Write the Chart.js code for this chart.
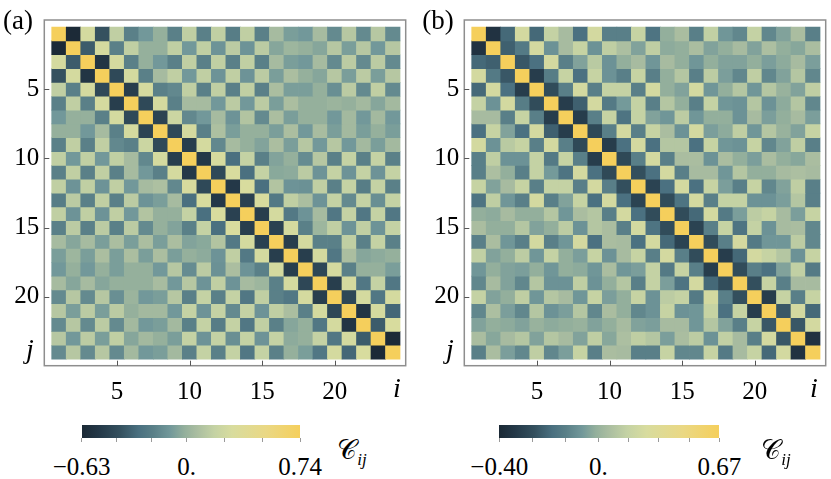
<!DOCTYPE html>
<html>
<head>
<meta charset="utf-8">
<script src="https://cdn.jsdelivr.net/npm/chart.js@4.4.1/dist/chart.umd.min.js"></script>
<style>
  body { margin: 0; width: 831px; height: 479px; overflow: hidden; background: #fff; position: relative; font-family: "Liberation Serif", serif; }
  .panel { position: absolute; top: 0; width: 415px; height: 410px; }
  .txt { position: absolute; transform: translate(-50%, -50%); white-space: nowrap; color: #000; line-height: 1; }
  .it { font-style: italic; }
  .cbar { position: absolute; height: 13px; }
  .ctick { position: absolute; width: 1px; height: 4px; background: #9a9a9a; }
</style>
</head>
<body>
<div class="panel" style="left:0"><canvas id="chartA" width="415" height="410"></canvas></div>
<div class="panel" style="left:420px"><canvas id="chartB" width="415" height="410"></canvas></div>
<div id="labels"></div>

<script>
/* --- datos: sitios, ticks y correlaciones (triangulo inferior, fila j) --- */
const sites = [1, 2, 3, 4, 5, 6, 7, 8, 9, 10, 11, 12, 13, 14, 15, 16, 17, 18, 19, 20, 21, 22, 23, 24];
const axisTicks = [5, 10, 15, 20];

const rangeA = [-0.63, 0.74];
const rangeB = [-0.40, 0.67];
const legendTicksA = [-0.63, -0.42, -0.21, 0, 0.247, 0.493, 0.74];
const legendTicksB = [-0.40, -0.267, -0.133, 0, 0.1675, 0.335, 0.5025, 0.67];
const legendLabelsA = ['−0.63', '0.', '0.74'];
const legendLabelsB = ['−0.40', '0.', '0.67'];

const corrA = [
  [.74],
  [-.62, .74],
  [.27, -.36, .74],
  [-.4, .27, -.55, .74],
  [.16, -.2, .27, -.44, .74],
  [-.2, .16, -.2, .27, -.5, .74],
  [-.1, -.01, -.01, -.2, .27, -.44, .74],
  [-.01, -.01, -.1, .05, -.2, .27, -.47, .74],
  [-.2, .16, -.2, .16, -.17, -.2, .22, -.44, .74],
  [.16, -.1, .16, -.1, .16, .05, -.17, .27, -.5, .74],
  [-.2, .16, -.2, .16, -.2, .05, -.1, -.2, .27, -.53, .74],
  [.16, -.12, .16, -.12, .16, -.1, .05, .08, -.17, .29, -.44, .74],
  [-.22, .14, -.2, .16, -.2, .14, -.12, -.08, .05, -.29, .3, -.53, .74],
  [.16, -.12, .16, -.12, .16, -.1, .1, -.01, -.01, .18, -.29, .3, -.48, .74],
  [-.2, .14, -.2, .14, -.2, .14, -.16, -.01, -.06, -.2, .18, -.29, .3, -.5, .74],
  [.05, -.05, .05, -.08, .07, -.08, .07, -.08, .07, -.06, -.04, .1, -.24, .27, -.48, .74],
  [-.08, .02, -.08, .07, -.08, .07, -.08, .07, -.08, -.01, -.03, -.12, .16, -.24, .27, -.5, .74],
  [-.1, -.01, -.1, -.01, -.08, -.01, -.01, -.1, .12, -.15, .14, -.13, .07, -.12, -.2, .27, -.5, .74],
  [.05, -.05, .05, -.05, -.01, -.01, -.01, .06, -.1, .12, -.12, .16, -.12, .05, .02, -.2, .27, -.45, .74],
  [-.16, .12, -.16, .12, -.14, .01, -.1, -.08, .12, -.2, .18, -.2, .18, -.25, .16, -.2, -.25, .27, -.5, .74],
  [.12, -.08, .14, -.08, .14, -.01, .04, .04, -.1, .18, -.12, .18, -.16, .18, -.12, .16, .07, -.2, .27, -.45, .74],
  [-.16, .12, -.16, .14, -.16, .04, -.1, -.08, .04, -.2, .18, -.22, .18, -.25, .16, -.2, -.05, -.01, -.25, .27, -.55, .74],
  [.12, -.1, .14, -.08, .16, -.05, .04, -.01, -.08, .18, -.12, .18, -.14, .18, -.12, .18, -.03, -.01, .18, -.25, .27, -.36, .74],
  [-.16, .12, -.16, .12, -.16, .04, -.1, -.08, .04, -.2, .18, -.2, .18, -.25, .18, -.2, -.01, -.08, -.25, .27, -.32, .3, -.62, .74]
];

const corrB = [
  [.67],
  [-.36, .67],
  [-.2, -.22, .67],
  [.24, -.15, -.24, .67],
  [-.2, .24, -.18, -.32, .67],
  [.16, -.08, .24, -.14, -.27, .67],
  [.05, .05, -.13, .17, -.13, -.32, .67],
  [-.18, .17, -.04, -.18, .24, -.22, -.32, .67],
  [.24, -.08, .12, .17, -.13, .24, -.13, -.28, .67],
  [-.13, .14, -.08, -.08, .16, -.15, .17, -.13, -.32, .67],
  [-.13, .07, -.01, -.13, .16, -.06, -.17, .24, -.18, -.28, .67],
  [.17, -.04, .05, .17, -.13, .16, .16, -.13, .24, -.13, -.26, .67],
  [-.17, .14, -.07, -.13, .24, -.13, -.04, .17, -.18, .24, -.18, -.3, .67],
  [-.01, -.02, .05, -.01, -.01, .1, -.07, .06, .1, -.13, .24, -.18, -.27, .67],
  [.06, -.01, -.01, .1, -.04, -.01, .13, -.08, .1, .06, -.13, .24, -.17, -.27, .67],
  [-.13, .06, -.07, -.13, .24, -.13, -.07, .24, -.18, .06, .05, -.18, .24, -.2, -.3, .67],
  [.15, -.04, -.01, .13, -.07, .16, -.01, -.05, .17, -.08, .05, .17, -.13, .24, -.13, -.27, .67],
  [-.07, -.01, -.04, -.05, -.01, -.07, -.01, -.02, -.07, .06, -.07, -.05, .16, -.15, .17, -.13, -.32, .67],
  [-.11, .05, -.04, -.11, .1, -.08, -.08, .14, -.08, -.01, .1, -.13, .16, -.05, -.17, .24, -.2, -.27, .67],
  [.16, -.04, -.01, .14, -.07, .1, .05, -.07, .17, -.05, -.01, .17, -.08, .13, .16, -.15, .24, -.13, -.26, .67],
  [-.11, .07, -.05, -.11, .1, -.08, -.05, .1, -.11, .06, -.01, -.11, -.08, .17, -.08, -.07, .17, -.18, .17, -.32, .67],
  [-.04, -.01, -.02, -.04, 0, -.02, -.01, 0, -.04, -.01, .05, -.04, -.05, .05, .05, -.07, .1, -.04, -.13, .17, -.24, .67],
  [.06, -.03, .05, .1, -.04, .1, .05, -.04, .14, -.03, .07, .14, .1, -.05, .06, .13, -.08, .15, .05, -.13, .24, -.24, .67],
  [-.13, .06, -.05, -.11, .14, -.11, -.05, .17, -.13, .06, .05, -.13, -.13, .17, -.11, -.11, .17, -.15, .05, .17, -.2, .24, -.36, .67]
];

/* --- mapa de color (oscuro -> verde gris -> amarillo) --- */
const cmap = [
  [0.00, [27, 41, 53]], [0.08, [36, 56, 72]], [0.18, [52, 80, 94]], [0.27, [74, 112, 128]],
  [0.34, [90, 128, 136]], [0.42, [114, 152, 154]], [0.49, [148, 176, 156]], [0.54, [168, 188, 160]],
  [0.62, [196, 210, 164]], [0.70, [216, 220, 158]], [0.85, [234, 216, 132]], [1.00, [245, 207, 92]]
];

function cmapAt(t) {
  t = Math.max(0, Math.min(1, t));
  for (let k = 1; k < cmap.length; k++) {
    if (t <= cmap[k][0]) {
      const [t0, c0] = cmap[k - 1], [t1, c1] = cmap[k];
      const f = (t - t0) / (t1 - t0);
      return 'rgb(' + c0.map((c, n) => Math.round(c + f * (c1[n] - c))).join(',') + ')';
    }
  }
  return 'rgb(245,207,92)';
}

function colorFor(v, range) {
  const t = v < 0 ? 0.5 * (1 + v / Math.abs(range[0])) : 0.5 + 0.5 * v / range[1];
  return cmapAt(t);
}

/* --- marco y ticks hacia adentro --- */
const framePlugin = {
  id: 'frame',
  afterDraw(chart) {
    const { ctx, chartArea: a, scales } = chart;
    ctx.save();
    ctx.strokeStyle = '#8e8e8e';
    ctx.lineWidth = 1.5;
    ctx.strokeRect(a.left, a.top, a.right - a.left, a.bottom - a.top);
    ctx.strokeStyle = '#555';
    ctx.lineWidth = 1;
    axisTicks.forEach(v => {
      const x = Math.round(scales.x.getPixelForValue(v)) + 0.5;
      ctx.beginPath(); ctx.moveTo(x, a.bottom); ctx.lineTo(x, a.bottom - 5); ctx.stroke();
      const y = Math.round(scales.y.getPixelForValue(v)) + 0.5;
      ctx.beginPath(); ctx.moveTo(a.left, y); ctx.lineTo(a.left + 5, y); ctx.stroke();
    });
    ctx.restore();
  }
};

function initHeatmap(id, lower, range) {
  const full = sites.map((_, r) => sites.map((_, c) => (c <= r ? lower[r][c] : lower[c][r])));
  const datasets = sites.map((j, r) => ({
    data: sites.map(i => ({ x: i, y: [j - 0.5, j + 0.5] })),
    backgroundColor: full[r].map(v => colorFor(v, range)),
    borderWidth: 0,
    grouped: false,
    categoryPercentage: 1,
    barPercentage: 1
  }));

  const tickFont = { family: 'Liberation Serif', size: 25 };

  return new Chart(document.getElementById(id), {
    type: 'bar',
    data: { datasets },
    options: {
      responsive: false,
      animation: false,
      devicePixelRatio: 1,
      layout: { padding: { top: 3.5, right: 9.3, left: 0, bottom: 0 } },
      plugins: { legend: { display: false }, tooltip: { enabled: false } },
      scales: {
        x: {
          type: 'linear', min: -0.01, max: 24.89, offset: false,
          grid: { display: false, drawTicks: false }, border: { display: false },
          afterBuildTicks: s => { s.ticks = axisTicks.map(v => ({ value: v })); },
          afterFit: s => { s.height = 44.3; },
          ticks: { font: tickFont, color: '#000', padding: 12, maxRotation: 0, autoSkip: false }
        },
        y: {
          type: 'linear', reverse: true, min: -0.01, max: 24.98,
          grid: { display: false, drawTicks: false }, border: { display: false },
          afterBuildTicks: s => { s.ticks = axisTicks.map(v => ({ value: v })); },
          afterFit: s => { s.width = 44.3; },
          ticks: { font: tickFont, color: '#000', padding: 5, autoSkip: false }
        }
      }
    },
    plugins: [framePlugin]
  });
}

/* --- textos y barra de color --- */
const holder = document.getElementById('labels');
function addText(html, x, y, size, cls) {
  const d = document.createElement('div');
  d.className = 'txt' + (cls ? ' ' + cls : '');
  d.style.left = x + 'px';
  d.style.top = y + 'px';
  d.style.fontSize = size + 'px';
  d.innerHTML = html;
  holder.appendChild(d);
}

function addColorbar(left, width, zero, range, ticks, labels) {
  const pos = v => (v < 0 ? zero * (1 + v / Math.abs(range[0])) : zero + (1 - zero) * v / range[1]);
  const stops = cmap.map(([t]) => {
    const p = t < 0.5 ? zero * t / 0.5 : zero + (1 - zero) * (t - 0.5) / 0.5;
    return cmapAt(t) + ' ' + (p * 100).toFixed(2) + '%';
  });
  const bar = document.createElement('div');
  bar.className = 'cbar';
  bar.style.left = left + 'px';
  bar.style.top = '424.5px';
  bar.style.width = width + 'px';
  bar.style.background = 'linear-gradient(to right, ' + stops.join(', ') + ')';
  holder.appendChild(bar);
  ticks.forEach(v => {
    const t = document.createElement('div');
    t.className = 'ctick';
    t.style.left = (left + pos(v) * width - 0.5) + 'px';
    t.style.top = '437.5px';
    holder.appendChild(t);
  });
  [range[0], 0, range[1]].forEach((v, k) => {
    addText(labels[k], left + pos(v) * width, 466, 25);
  });
}

window.addEventListener('load', () => {
  initHeatmap('chartA', corrA, rangeA);
  initHeatmap('chartB', corrB, rangeB);

  addText('(a)', 18, 20, 27);
  addText('(b)', 438, 20, 27);
  addText('j', 30, 349, 28, 'it');
  addText('j', 450, 349, 28, 'it');
  addText('i', 397, 388, 28, 'it');
  addText('i', 814, 388, 28, 'it');

  addColorbar(81.7, 218.3, 0.481, rangeA, legendTicksA, legendLabelsA);
  addColorbar(499.3, 220, 0.45, rangeB, legendTicksB, legendLabelsB);

  addText('𝒞<sub style="font-size:17px;font-style:italic;vertical-align:-6px">ij</sub>', 352, 452, 27);
  addText('𝒞<sub style="font-size:17px;font-style:italic;vertical-align:-6px">ij</sub>', 776, 452, 27);
});
</script>
</body>
</html>
